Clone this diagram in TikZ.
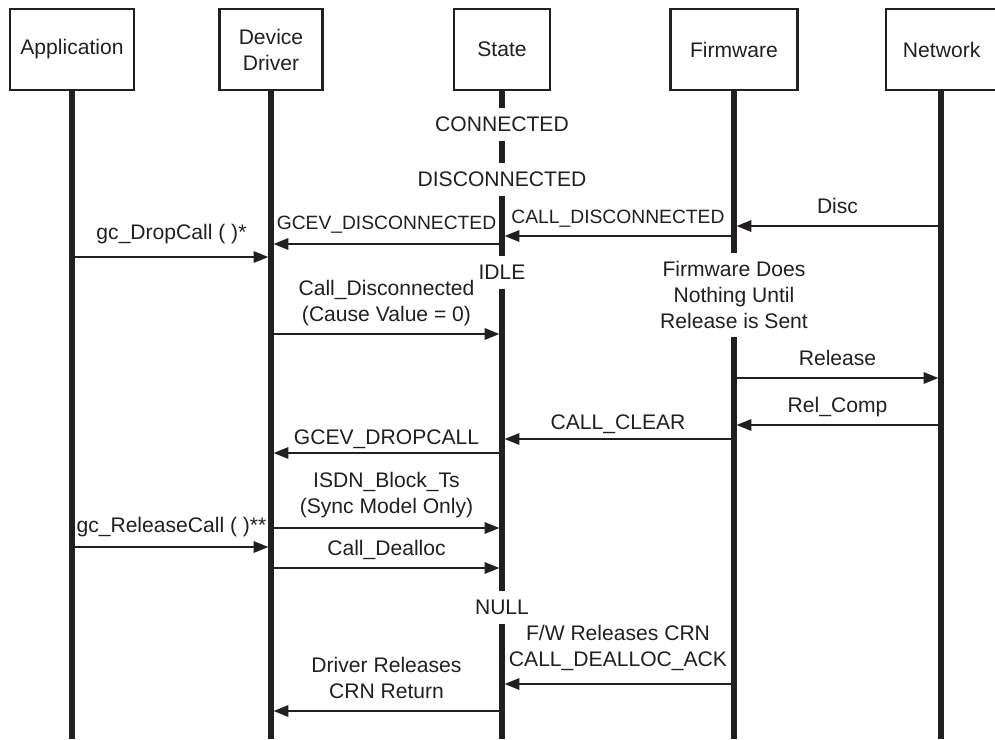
\documentclass[tikz,border=0pt]{standalone}
\usepackage{fontspec}
\setmainfont{Liberation Sans}
\usepackage{xcolor}
\usetikzlibrary{arrows.meta, positioning}
\definecolor{ink}{RGB}{35,31,32}
\newcommand{\seqfont}{\fontsize{15}{18.5}\selectfont}
\newcommand{\seqnarrow}{\fontsize{13.7}{17}\selectfont}
\tikzset{
  actorbox/.style={
    draw=ink, line width=2pt, align=center, text=ink,
    minimum height=2.025cm, inner sep=2pt, font=\seqfont
  },
  lifeline/.style={draw=ink, line width=3.6pt},
  statelbl/.style={
    inner sep=0pt, outer sep=0pt, minimum height=0.825cm,
    font=\seqfont, text=ink
  },
  fwnote/.style={
    inner sep=0pt, outer sep=0pt, minimum height=2.1cm,
    align=center, font=\seqfont, text=ink
  },
  msgarrow/.style={
    draw=ink, line width=1.6pt, shorten >=1.8pt,
    -{Triangle[length=10.5pt, width=8pt]}
  },
  msglabel/.style={
    midway, above, inner sep=5pt, text depth=3pt,
    align=center, font=\seqfont, text=ink
  },
}

\begin{document}
\begin{tikzpicture}[x=0.025cm, y=-0.025cm]
  \useasboundingbox (0,0) rectangle (995,739);

  % ── Actors ─────────────────────────────────────────────────────
  \node[actorbox, minimum width=3.1cm]   (app) at (72,49.5)  {Application};
  \node[actorbox, minimum width=2.575cm] (drv) at (271,49.5) {Device\\Driver};
  \node[actorbox, minimum width=2.4cm]   (st)  at (502,49.5) {State};
  \node[actorbox, minimum width=3.175cm] (fw)  at (734,49.5) {Firmware};
  % box runs off the right edge of the page
  \node[actorbox, minimum width=2.95cm, text width=2.55cm, align=left,
        inner xsep=0pt]
    (net) at (945,49.5) {\hspace*{0.225cm}Network};
  \coordinate (netl) at (941,90);

  % ── Plain lifelines ────────────────────────────────────────────
  \foreach \who in {app, drv}
    \draw[lifeline] (\who.south) -- (\who.south |- 0,739);
  \draw[lifeline] (netl |- net.south) -- (netl |- 0,739);

  % ── State lifeline, broken by the state names ──────────────────
  \node[statelbl] (sconn) at (502,124.5) {CONNECTED};
  \node[statelbl] (sdisc) at (502,179)   {DISCONNECTED};
  \node[statelbl] (sidle) at (502,272)   {IDLE};
  \node[statelbl] (snull) at (502,607.5) {NULL};
  \draw[lifeline] (st.south) -- (sconn.north);
  \draw[lifeline] (sconn.south) -- (sdisc.north);
  \draw[lifeline] (sdisc.south) -- (sidle.north);
  \draw[lifeline] (sidle.south) -- (snull.north);
  \draw[lifeline] (snull.south) -- (snull.south |- 0,739);

  % ── Firmware lifeline, broken by the note ──────────────────────
  \node[fwnote] (fwwait) at (734,295)
    {Firmware Does\\Nothing Until\\Release is Sent};
  \draw[lifeline] (fw.south) -- (fwwait.north);
  \draw[lifeline] (fwwait.south) -- (fwwait.south |- 0,739);

  % ── Disconnect ─────────────────────────────────────────────────
  \draw[msgarrow] (netl |- 0,226) -- node[msglabel] {Disc} (fw |- 0,226);
  \draw[msgarrow] (fw |- 0,236) --
    node[msglabel, font=\seqnarrow] {CALL\_DISCONNECTED} (st |- 0,236);
  \draw[msgarrow] (st |- 0,244) --
    node[msglabel, font=\seqnarrow, yshift=1.5pt] {GCEV\_DISCONNECTED} (drv |- 0,244);
  \draw[msgarrow] (app |- 0,257) --
    node[msglabel, yshift=3.5pt] {gc\_DropCall ( )*} (drv |- 0,257);
  \draw[msgarrow] (drv |- 0,334) --
    node[msglabel] {Call\_Disconnected\\(Cause Value = 0)} (st |- 0,334);

  % ── Release ────────────────────────────────────────────────────
  \draw[msgarrow] (fw |- 0,378) -- node[msglabel] {Release} (netl |- 0,378);
  \draw[msgarrow] (netl |- 0,425) -- node[msglabel] {Rel\_Comp} (fw |- 0,425);
  \draw[msgarrow] (fw |- 0,439) --
    node[msglabel, yshift=-2pt] {CALL\_CLEAR} (st |- 0,439);
  \draw[msgarrow] (st |- 0,453) --
    node[msglabel, yshift=-3pt] {GCEV\_DROPCALL} (drv |- 0,453);
  \draw[msgarrow] (drv |- 0,528) --
    node[msglabel, yshift=1.5pt] {ISDN\_Block\_Ts\\(Sync Model Only)} (st |- 0,528);
  \draw[msgarrow] (app |- 0,547) --
    node[msglabel, yshift=1.5pt] {gc\_ReleaseCall ( )**} (drv |- 0,547);
  \draw[msgarrow] (drv |- 0,568) -- node[msglabel] {Call\_Dealloc} (st |- 0,568);

  % ── Deallocation ───────────────────────────────────────────────
  \draw[msgarrow] (fw |- 0,684) --
    node[msglabel, yshift=3.5pt] {F/W Releases CRN\\CALL\_DEALLOC\_ACK} (st |- 0,684);
  \draw[msgarrow] (st |- 0,711) --
    node[msglabel] {Driver Releases\\CRN Return} (drv |- 0,711);
\end{tikzpicture}
\end{document}
